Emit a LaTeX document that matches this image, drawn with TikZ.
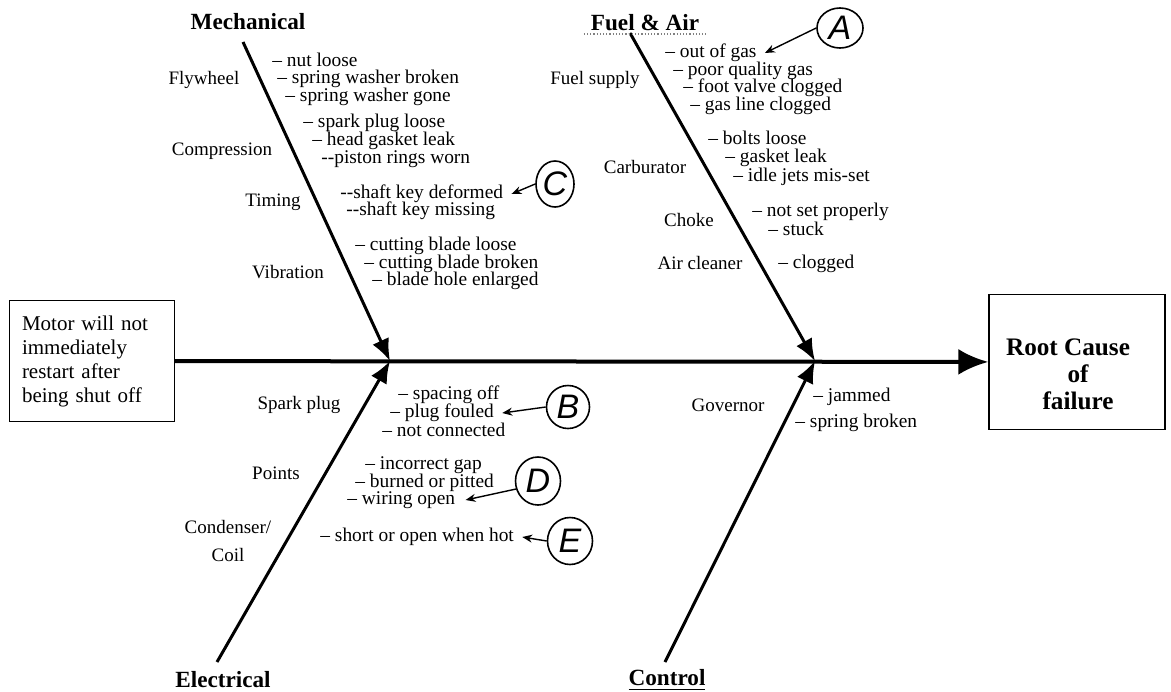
\documentclass[tikz,border=0pt]{standalone}
\usepackage{fontspec}
\setmainfont{Liberation Serif}
\newfontfamily\tagfont{Liberation Sans}
\usetikzlibrary{arrows.meta, shapes.geometric}
\tikzset{>=latex}

\begin{document}
\begin{tikzpicture}[x=0.5pt, y=-0.5pt,
  spine/.style={line width=2pt, -{Latex[length=15pt,width=13pt]}},
  bone/.style={line width=1.5pt, -{Latex[length=11pt,width=9pt]}},
  head/.style={font=\fontsize{11.6}{13}\selectfont\bfseries},
  cause/.style={font=\fontsize{9.5}{11}\selectfont},
  item/.style={anchor=west, inner sep=0pt, font=\fontsize{9.7}{10}\selectfont},
  tag/.style={draw, ellipse, line width=0.8pt, inner sep=0pt, font=\tagfont\itshape\fontsize{17}{17}\selectfont},
  tagline/.style={line width=0.7pt, -{Stealth[length=5pt,width=4pt]}}]
\useasboundingbox (0,0) rectangle (1171,691);

% effect and result boxes
\node[draw, line width=0.7pt, minimum width=82.5pt, minimum height=60.5pt, text width=70pt, align=left,
  font=\fontsize{10.5}{12}\selectfont] (motor) at (92,361) {Motor will not\\immediately\\restart after\\being shut off};
\node[draw, line width=0.7pt, minimum width=88pt, minimum height=67.5pt] (root) at (1077,362) {};
\node[align=center, font=\fontsize{12.6}{13.5}\selectfont\bfseries] (roottext) at (1068,374) {Root Cause\\\hspace*{10pt}of\\\hspace*{10pt}failure};
\draw[spine] (motor) -- (root);

% bones
\coordinate (jl) at (390,361);
\coordinate (jr) at (815,361);
\coordinate (mtop) at (243,42);
\coordinate (ftop) at (630,33);
\coordinate (etop) at (217,662);
\coordinate (ctop) at (665,662);
\draw[bone] (mtop) -- (jl);
\draw[bone] (ftop) -- (jr);
\draw[bone] (etop) -- (jl);
\draw[bone] (ctop) -- (jr);

\node[head] (mech) at (248,22) {Mechanical};
\node[head] (fuel) at (645,23) {Fuel \& Air};
\draw[gray, densely dotted, line width=0.6pt] ([yshift=-1.5pt]fuel.base west) -- ([yshift=-1.5pt]fuel.base east);
\node[head] (elec) at (223,680) {Electrical};
\node[head] (ctrl) at (667,680) {\underline{Control}};

% Mechanical
\node[cause] (flywheel) at (204,80) {Flywheel};
\node[cause] (compression) at (222,151) {Compression};
\node[cause] (timing) at (273,202) {Timing};
\node[cause] (vibration) at (288,272) {Vibration};
\node[item] (fly1) at (272,60) {-- nut loose};
\node[item] (fly2) at (277,79) {-- spring washer broken};
\node[item] (fly3) at (285,97) {-- spring washer gone};
\node[item] (comp1) at (303,123) {-- spark plug loose};
\node[item] (comp2) at (312,141) {-- head gasket leak};
\node[item] (comp3) at (321,159) {-{}-piston rings worn};
\node[item] (tim1) at (340,194) {-{}-shaft key deformed};
\node[item] (tim2) at (346,211) {-{}-shaft key missing};
\node[item] (vib1) at (355,246) {-- cutting blade loose};
\node[item] (vib2) at (364,264) {-- cutting blade broken};
\node[item] (vib3) at (372,281) {-- blade hole enlarged};

% Fuel & Air
\node[cause] (fuelsup) at (595,80) {Fuel supply};
\node[cause] (carburator) at (645,167) {Carburator};
\node[cause] (choke) at (689,220) {Choke};
\node[cause] (aircleaner) at (700,263) {Air cleaner};
\node[item] (gas1) at (665,53) {-- out of gas};
\node[item] (gas2) at (673,71) {-- poor quality gas};
\node[item] (gas3) at (683,88) {-- foot valve clogged};
\node[item] (gas4) at (690,106) {-- gas line clogged};
\node[item] (carb1) at (708,138) {-- bolts loose};
\node[item] (carb2) at (725,158) {-- gasket leak};
\node[item] (carb3) at (733,177) {-- idle jets mis-set};
\node[item] (choke1) at (752,212) {-- not set properly};
\node[item] (choke2) at (768,229) {-- stuck};
\node[item] (air1) at (778,264) {-- clogged};

% Electrical
\node[cause] (sparkplug) at (299,405) {Spark plug};
\node[cause] (points) at (276,473) {Points};
\node[cause, align=center] (condenser) at (228,541) {Condenser/\\[3pt]Coil};
\node[item] (spark1) at (398,395) {-- spacing off};
\node[item] (spark2) at (390,413) {-- plug fouled};
\node[item] (spark3) at (382,430) {-- not connected};
\node[item] (pts1) at (365,465) {-- incorrect gap};
\node[item] (pts2) at (355,483) {-- burned or pitted};
\node[item] (pts3) at (347,500) {-- wiring open};
\node[item] (coil1) at (320,537) {-- short or open when hot};

% Control
\node[cause] (governor) at (728,405) {Governor};
\node[item] (gov1) at (813,397) {-- jammed};
\node[item] (gov2) at (795,423) {-- spring broken};

% hand-written marks
\node[tag, minimum width=23pt, minimum height=20pt] (tagA) at (840,28) {A};
\node[tag, minimum width=19pt, minimum height=23pt] (tagC) at (555,184) {C};
\node[tag, minimum width=21.5pt, minimum height=21.5pt] (tagB) at (568,407) {B};
\node[tag, minimum width=22.5pt, minimum height=24pt] (tagD) at (538,481) {D};
\node[tag, minimum width=22.5pt, minimum height=23.5pt] (tagE) at (570,541) {E};
\draw[tagline] (tagA.west) -- ([xshift=4pt]gas1.east);
\draw[tagline] (tagC.west) -- ([xshift=4pt]tim1.east);
\draw[tagline] (tagB.west) -- ([xshift=4pt]spark2.east);
\draw[tagline] (tagD.200) -- ([xshift=5pt]pts3.east);
\draw[tagline] (tagE.west) -- ([xshift=4pt]coil1.east);
\end{tikzpicture}
\end{document}
